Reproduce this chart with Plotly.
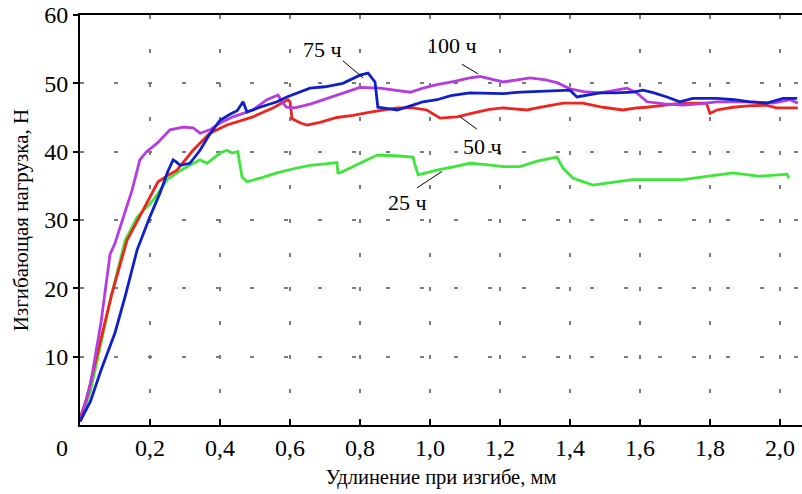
import plotly.graph_objects as go

# ---- data ----
blue_x = [0, 0.03, 0.06, 0.1, 0.13, 0.163, 0.2, 0.229, 0.25, 0.266, 0.275, 0.286, 0.314, 0.343, 0.37, 0.4, 0.43, 0.449, 0.466, 0.477, 0.514, 0.563, 0.591, 0.657, 0.7, 0.751, 0.8, 0.823, 0.843, 0.851, 0.88, 0.906, 0.951, 0.98, 1.02, 1.06, 1.114, 1.16, 1.209, 1.26, 1.306, 1.36, 1.4, 1.42, 1.449, 1.486, 1.53, 1.58, 1.609, 1.64, 1.677, 1.714, 1.751, 1.82, 1.87, 1.914, 1.963, 2.009, 2.049]
blue_y = [0.5, 3.5, 8, 13.5, 19, 25.6, 30.5, 34, 37, 38.8, 38.5, 38, 38.3, 40.2, 42.5, 44.6, 45.5, 46, 47.3, 45.8, 46.5, 47.3, 48, 49.3, 49.5, 50, 51.2, 51.5, 50.2, 46.5, 46.3, 46.1, 46.8, 47.3, 47.6, 48.2, 48.6, 48.6, 48.5, 48.7, 48.8, 48.9, 49.0, 48.0, 48.3, 48.6, 48.6, 48.7, 49, 48.6, 48, 47.3, 47.8, 47.8, 47.6, 47.3, 47.1, 47.8, 47.8]

magenta_x = [0, 0.03, 0.06, 0.077, 0.086, 0.1, 0.123, 0.149, 0.171, 0.19, 0.22, 0.257, 0.294, 0.323, 0.343, 0.371, 0.4, 0.437, 0.494, 0.534, 0.566, 0.577, 0.59, 0.614, 0.66, 0.706, 0.75, 0.8, 0.857, 0.9, 0.943, 0.98, 1.02, 1.07, 1.114, 1.143, 1.18, 1.209, 1.25, 1.286, 1.33, 1.363, 1.4, 1.44, 1.486, 1.53, 1.563, 1.591, 1.62, 1.67, 1.723, 1.77, 1.82, 1.923, 1.98, 2.029, 2.051]
magenta_y = [0.5, 6, 15, 22, 25, 26.6, 30.4, 34.4, 38.8, 40, 41.2, 43.2, 43.6, 43.5, 42.7, 43.2, 44.2, 45.1, 46.1, 47.6, 48.3, 47.3, 46.5, 46.4, 47, 47.8, 48.6, 49.4, 49.3, 49.0, 48.7, 49.3, 49.8, 50.3, 50.8, 51, 50.6, 50.2, 50.5, 50.8, 50.5, 50.1, 49.2, 48.8, 48.6, 49.0, 49.3, 48.6, 47.3, 47.0, 46.8, 47.0, 47.3, 47.3, 47.1, 47.6, 47.1]

red_x = [0, 0.02, 0.05, 0.09, 0.134, 0.18, 0.223, 0.25, 0.277, 0.323, 0.371, 0.42, 0.494, 0.551, 0.586, 0.594, 0.6, 0.606, 0.63, 0.649, 0.686, 0.734, 0.78, 0.829, 0.87, 0.906, 0.951, 0.991, 1.029, 1.077, 1.134, 1.17, 1.209, 1.24, 1.277, 1.306, 1.343, 1.38, 1.437, 1.494, 1.551, 1.591, 1.62, 1.66, 1.7, 1.75, 1.79, 1.8, 1.82, 1.866, 1.91, 1.96, 1.99, 2.051]
red_y = [1, 4, 10.5, 19, 27, 31.5, 35.6, 36.5, 37.3, 40.2, 42.7, 43.9, 45.1, 46.4, 47.3, 47.6, 47.3, 44.8, 44.2, 43.9, 44.3, 45.0, 45.3, 45.8, 46.1, 46.4, 46.4, 46.1, 44.9, 45.1, 45.8, 46.2, 46.4, 46.3, 46.1, 46.4, 46.8, 47.1, 47.1, 46.5, 46.1, 46.4, 46.5, 46.8, 47.0, 47.1, 47.1, 45.6, 46.1, 46.5, 46.7, 46.8, 46.4, 46.4]

green_x = [0, 0.03, 0.06, 0.09, 0.129, 0.163, 0.209, 0.249, 0.28, 0.306, 0.343, 0.363, 0.4, 0.42, 0.434, 0.451, 0.463, 0.477, 0.52, 0.563, 0.61, 0.657, 0.7, 0.734, 0.737, 0.743, 0.8, 0.849, 0.9, 0.951, 0.966, 1.02, 1.07, 1.114, 1.16, 1.209, 1.257, 1.306, 1.363, 1.38, 1.409, 1.466, 1.506, 1.58, 1.65, 1.723, 1.791, 1.866, 1.943, 2.02, 2.026]
green_y = [0.5, 5, 12, 19, 27, 30.4, 32.9, 35.9, 37, 37.8, 38.8, 38.3, 39.8, 40.2, 39.8, 40, 36.3, 35.6, 36.2, 36.9, 37.5, 38, 38.2, 38.4, 36.9, 36.9, 38.3, 39.5, 39.4, 39.2, 36.6, 37.3, 37.8, 38.3, 38.1, 37.8, 37.8, 38.6, 39.2, 37.6, 36.1, 35.1, 35.4, 35.9, 35.9, 35.9, 36.4, 36.9, 36.4, 36.7, 36.1]

x_tickvals = [0.2, 0.4, 0.6, 0.8, 1.0, 1.2, 1.4, 1.6, 1.8, 2.0]
x_ticktext = ["0,2", "0,4", "0,6", "0,8", "1,0", "1,2", "1,4", "1,6", "1,8", "2,0"]
y_tickvals = [10, 20, 30, 40, 50, 60]
y_ticktext = ["10", "20", "30", "40", "50", "60"]

labels = ["75 ч", "100 ч", "50 ч", "25 ч"]

FONT = "Liberation Serif, Times New Roman, serif"

fig = go.Figure()
series = [
    (green_x, green_y, "#3ee63a"),
    (red_x, red_y, "#f0241e"),
    (magenta_x, magenta_y, "#b43ce0"),
    (blue_x, blue_y, "#1020c8"),
]
for xs, ys, col in series:
    fig.add_trace(go.Scatter(x=xs, y=ys, mode="lines",
                             line=dict(color=col, width=2.8),
                             showlegend=False, hoverinfo="skip"))

# label texts and leader lines
label_pos = [(0.694, 54.9), (1.063, 55.6), (1.149, 40.7), (0.937, 32.5)]
leaders = [((0.751, 53.3), (0.809, 50.8)),
           ((1.091, 52.8), (1.137, 51.4)),
           ((1.086, 45.1), (1.134, 43.3)),
           ((0.963, 34.7), (1.034, 37.1))]
for txt, (lx, ly) in zip(labels, label_pos):
    fig.add_annotation(x=lx, y=ly, text=txt, showarrow=False,
                       font=dict(family=FONT, size=22, color="black"))
for (a, b) in leaders:
    fig.add_shape(type="line", x0=a[0], y0=a[1], x1=b[0], y1=b[1],
                  line=dict(color="black", width=1))

# origin label
fig.add_annotation(x=0, y=0, text="0", showarrow=False, xanchor="center",
                   yanchor="top", xshift=-18, yshift=-8,
                   font=dict(family=FONT, size=24, color="black"))

fig.update_layout(
    width=802, height=494,
    margin=dict(l=80, r=0, t=15, b=69),
    plot_bgcolor="white", paper_bgcolor="white",
    font=dict(family=FONT, size=24, color="black"),
)
fig.update_xaxes(
    range=[0, 2.063], tickvals=x_tickvals, ticktext=x_ticktext,
    showline=True, linecolor="black", linewidth=2, mirror=True,
    ticks="inside", ticklen=6, tickwidth=2, tickcolor="black",
    showgrid=True, gridcolor="#7a7a7a", gridwidth=1.6, griddash="4px,30px",
    zeroline=False,
    title=dict(text="Удлинение при изгибе, мм", font=dict(family=FONT, size=20.5), standoff=10),
    tickfont=dict(family=FONT, size=24),
)
fig.update_yaxes(
    range=[0, 60], tickvals=y_tickvals, ticktext=y_ticktext,
    showline=True, linecolor="black", linewidth=2,
    ticks="outside", ticklen=5, tickwidth=2, tickcolor="black",
    showgrid=True, gridcolor="#7a7a7a", gridwidth=1.6, griddash="4px,30px",
    zeroline=False,
    title=dict(text="Изгибающая нагрузка, Н", font=dict(family=FONT, size=21), standoff=10),
    tickfont=dict(family=FONT, size=24),
)

fig.write_html("out.html")
